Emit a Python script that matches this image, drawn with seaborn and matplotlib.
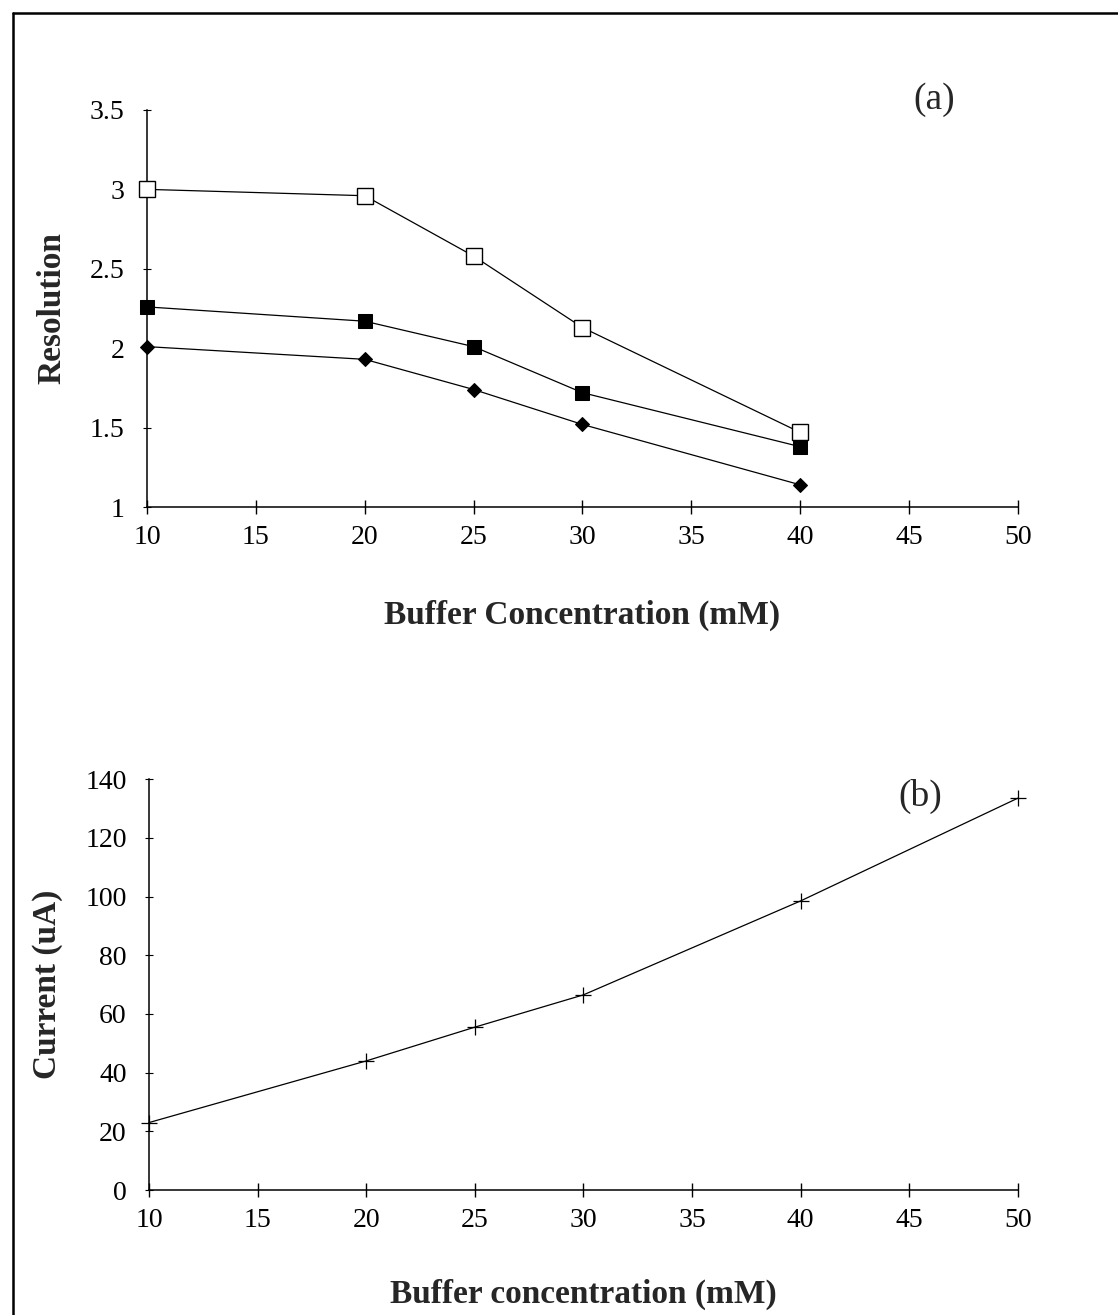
import matplotlib
matplotlib.use("Agg")
import matplotlib.pyplot as plt
import seaborn as sns
from matplotlib.lines import Line2D

# Panel (a): resolution vs buffer concentration
conc_a = [10, 20, 25, 30, 40]
res_open = [3.00, 2.96, 2.58, 2.13, 1.47]
res_filled = [2.26, 2.17, 2.01, 1.72, 1.38]
res_diamond = [2.01, 1.93, 1.74, 1.52, 1.14]

# Panel (b): current vs buffer concentration
conc_b = [10, 20, 25, 30, 40, 50]
current = [23, 44, 55.5, 66.5, 98.5, 133.5]

x_ticks = [10, 15, 20, 25, 30, 35, 40, 45, 50]
y_ticks_a = [1, 1.5, 2, 2.5, 3, 3.5]
y_ticks_b = [0, 20, 40, 60, 80, 100, 120, 140]

sns.set_style("ticks")
plt.rcParams["font.family"] = ["Liberation Serif", "DejaVu Serif"]

fig = plt.figure(figsize=(11.18, 13.15), dpi=100)
ax_a = fig.add_axes([0.1315, 0.6144, 0.779, 0.302])
ax_b = fig.add_axes([0.1333, 0.095, 0.777, 0.3125])

# frame lines around the figure (top and left only)
fig.add_artist(Line2D([0.012, 1.0], [0.990, 0.990], color="black", lw=1.8))
fig.add_artist(Line2D([0.012, 0.012], [0.0, 0.990], color="black", lw=1.8))

line_kw = dict(color="black", linewidth=0.9, estimator=None, legend=False,
               clip_on=False, zorder=5)

sns.lineplot(x=conc_a, y=res_open, ax=ax_a, marker="s", markersize=11,
             markerfacecolor="white", markeredgecolor="black", markeredgewidth=1.0, **line_kw)
sns.lineplot(x=conc_a, y=res_filled, ax=ax_a, marker="s", markersize=10,
             markerfacecolor="black", markeredgecolor="black", **line_kw)
sns.lineplot(x=conc_a, y=res_diamond, ax=ax_a, marker="D", markersize=7,
             markerfacecolor="black", markeredgecolor="black", **line_kw)

sns.lineplot(x=conc_b, y=current, ax=ax_b, marker="+", markersize=11,
             markeredgewidth=0.9, markeredgecolor="black", **line_kw)

for ax, yt, ylab, xlab, xpad in [
    (ax_a, y_ticks_a, "Resolution", "Buffer Concentration (mM)", 36),
    (ax_b, y_ticks_b, "Current (uA)", "Buffer concentration (mM)", 33),
]:
    ax.set_xlim(10, 50)
    ax.set_ylim(yt[0], yt[-1])
    ax.set_xticks(x_ticks)
    ax.set_yticks(yt)
    ax.set_yticklabels([f"{v:g}" for v in yt])
    sns.despine(ax=ax)
    for s in ["left", "bottom"]:
        ax.spines[s].set_linewidth(1.1)
        ax.spines[s].set_color("black")
    ax.tick_params(axis="x", direction="inout", length=10, width=1.0, pad=8,
                   labelsize=20, colors="black")
    ax.tick_params(axis="y", direction="inout", length=6, width=0.8, pad=13,
                   labelsize=20, colors="black")
    ax.set_xlabel(xlab, fontsize=24, fontweight="bold", labelpad=xpad)
    ax.set_ylabel(ylab, fontsize=24, fontweight="bold", labelpad=16)

fig.text(0.836, 0.924, "(a)", fontsize=27, ha="center", va="center")
fig.text(0.823, 0.394, "(b)", fontsize=27, ha="center", va="center")

fig.savefig("out.png", dpi=100, facecolor="white")
plt.close(fig)
